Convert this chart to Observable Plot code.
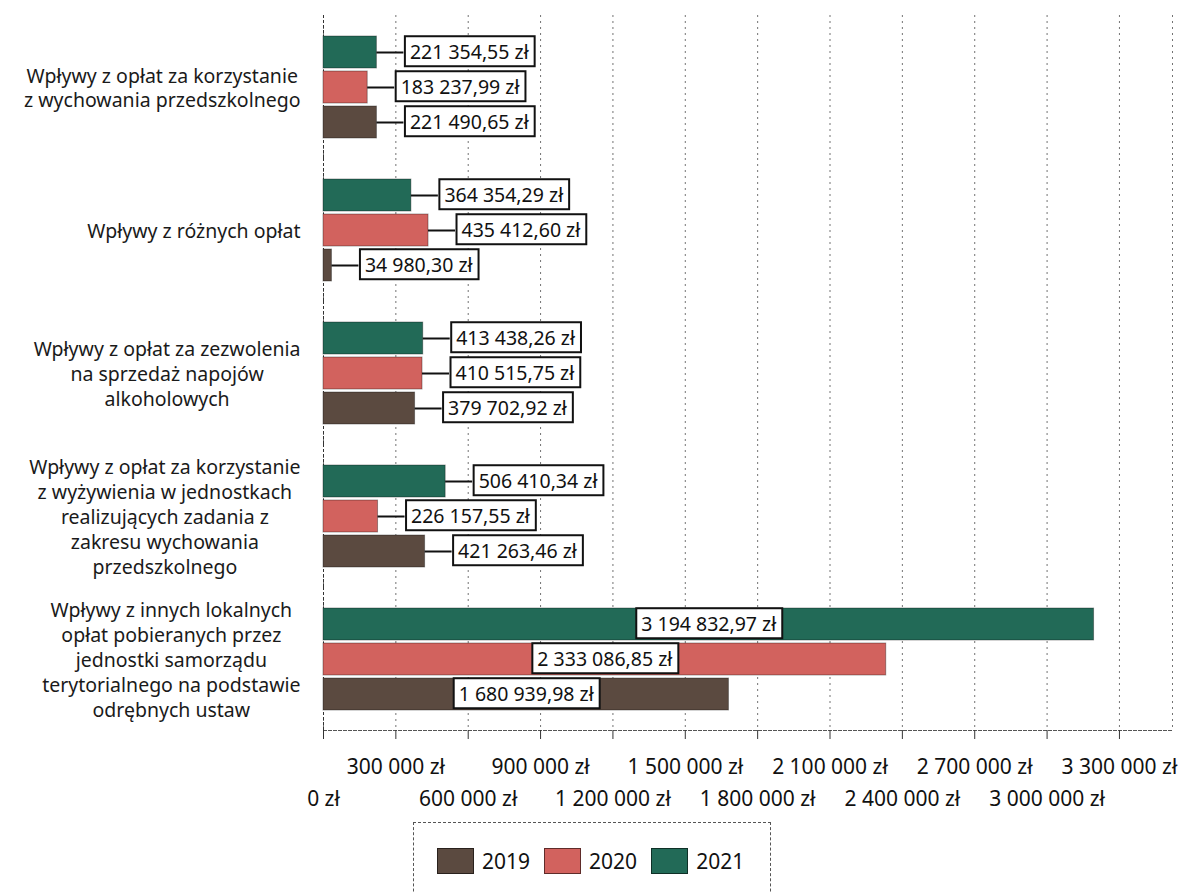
<!DOCTYPE html>
<html>
<head>
<meta charset="utf-8">
<script src="https://cdn.jsdelivr.net/npm/d3@7"></script>
<script src="https://cdn.jsdelivr.net/npm/@observablehq/plot@0.6"></script>
<style>
  html, body { margin: 0; padding: 0; background: #fff; }
  body { width: 1183px; height: 892px; overflow: hidden; font-family: "Noto Sans", sans-serif; }
  #legend { margin-left: 413px; margin-top: 7px; width: 358px; height: 90px; border: 1px dashed #555; border-bottom: none; box-sizing: border-box; display: flex; align-items: center; padding-left: 23px; padding-bottom: 14px; }
  .item { display: flex; align-items: center; margin-right: 14px; font-size: 21px; color: #111; }
  .sw { width: 37px; height: 26px; border: 1px solid rgba(0,0,0,0.55); margin-right: 8px; box-sizing: border-box; }
</style>
</head>
<body>
<div id="chart"></div>
<div id="legend"></div>
<script>
const categories = [
  "Wpływy z opłat za korzystanie\nz wychowania przedszkolnego",
  "Wpływy z różnych opłat",
  "Wpływy z opłat za zezwolenia\nna sprzedaż napojów\nalkoholowych",
  "Wpływy z opłat za korzystanie\nz wyżywienia w jednostkach\nrealizujących zadania z\nzakresu wychowania\nprzedszkolnego",
  "Wpływy z innych lokalnych\nopłat pobieranych przez\njednostki samorządu\nterytorialnego na podstawie\nodrębnych ustaw"
];
const years = ["2019", "2020", "2021"];
const values2019 = [221490.65, 34980.30, 379702.92, 421263.46, 1680939.98];
const values2020 = [183237.99, 435412.60, 410515.75, 226157.55, 2333086.85];
const values2021 = [221354.55, 364354.29, 413438.26, 506410.34, 3194832.97];
const colors = ["#5b4a40", "#d2625e", "#226a57"];
const tickValues = [0, 300000, 600000, 900000, 1200000, 1500000, 1800000, 2100000, 2400000, 2700000, 3000000, 3300000];
const xMax = 3520000;

const series = {"2019": values2019, "2020": values2020, "2021": values2021};
const rows = [];
categories.forEach((c, i) => years.forEach(y => rows.push({cat: c, year: y, value: series[y][i]})));

const loc = d3.formatLocale({decimal: ",", thousands: " ", grouping: [3], currency: ["", ""]});
const fmtVal = v => loc.format(",.2f")(v) + " zł";
const fmtTick = v => loc.format(",.0f")(v) + " zł";

const width = 1183, height = 815, mL = 323, mR = 11, mT = 13, mB = 83;
const pxToData = xMax / (width - mL - mR);
const lead = 27 * pxToData;
const insideThreshold = 1000000;
const outside = rows.filter(d => d.value < insideThreshold);
const inside = rows.filter(d => d.value >= insideThreshold);

// measure category label widths
const ctx = document.createElement("canvas").getContext("2d");
const catFont = 19.5;
ctx.font = `${catFont}px "Noto Sans"`;
const catWidth = c => Math.max(...c.split("\n").map(l => ctx.measureText(l).width));

const catMarks = categories.map(c => Plot.text([c], {
  fy: d => d, frameAnchor: "left", text: d => d, textAnchor: "middle",
  dx: -(23 + catWidth(c) / 2), fontSize: catFont, lineHeight: 1.28, fill: "#1a1a1a"
}));

const plot = Plot.plot({
  width, height, marginLeft: mL, marginRight: mR, marginTop: mT, marginBottom: mB,
  style: {fontFamily: '"Noto Sans", sans-serif', fontSize: "21px", background: "#fff"},
  x: {domain: [0, xMax], axis: null, label: null},
  y: {domain: ["2021", "2020", "2019"], axis: null, paddingInner: 0.1, paddingOuter: 0.545},
  fy: {domain: categories, axis: null, padding: 0},
  color: {domain: years, range: colors},
  marks: [
    Plot.gridX({ticks: tickValues, stroke: "#444", strokeOpacity: 0.75, strokeDasharray: "2,4"}),
    Plot.ruleX([xMax], {stroke: "#444", strokeOpacity: 0.75, strokeDasharray: "2,4"}),
    Plot.ruleX([0], {stroke: "#333", strokeDasharray: "3,2"}),
    Plot.frame({anchor: "bottom", facetAnchor: "bottom", stroke: "#555", strokeDasharray: "3,2"}),
    Plot.barX(rows, {x: "value", y: "year", fy: "cat", fill: "year", stroke: "rgba(0,0,0,0.35)", strokeWidth: 1}),
    Plot.ruleY(outside, {y: "year", fy: "cat", x1: "value", x2: d => d.value + lead, stroke: "#111", strokeWidth: 2}),
    Plot.text(outside, {y: "year", fy: "cat", x: d => d.value + lead, text: d => fmtVal(d.value), textAnchor: "start", dx: 6, fontSize: 19.5, fill: "#111", className: "vlabel"}),
    Plot.text(inside, {y: "year", fy: "cat", x: d => d.value / 2, text: d => fmtVal(d.value), textAnchor: "middle", fontSize: 19.5, fill: "#111", className: "vlabel"}),
    ...catMarks,
    Plot.axisX({ticks: tickValues.filter((d, i) => i % 2 === 1), label: null, tickSize: 9, tickPadding: 20, tickFormat: fmtTick, stroke: "#333", fill: "#111"}),
    Plot.axisX({ticks: tickValues.filter((d, i) => i % 2 === 0), label: null, tickSize: 9, tickPadding: 52, tickFormat: fmtTick, stroke: "#333", fill: "#111"})
  ]
});
document.getElementById("chart").appendChild(plot);

// white boxes behind value labels
plot.querySelectorAll("g.vlabel text").forEach(t => {
  const b = t.getBBox();
  const r = document.createElementNS("http://www.w3.org/2000/svg", "rect");
  const px = 5, py = 1.5;
  r.setAttribute("x", b.x - px);
  r.setAttribute("y", b.y - py);
  r.setAttribute("width", b.width + 2 * px);
  r.setAttribute("height", b.height + 2 * py);
  r.setAttribute("fill", "#fff");
  r.setAttribute("stroke", "#111");
  r.setAttribute("stroke-width", 2);
  if (t.getAttribute("transform")) r.setAttribute("transform", t.getAttribute("transform"));
  t.parentNode.insertBefore(r, t);
});

// legend
const legend = document.getElementById("legend");
years.forEach((y, i) => {
  const item = document.createElement("div");
  item.className = "item";
  const sw = document.createElement("div");
  sw.className = "sw";
  sw.style.background = colors[i];
  const lab = document.createElement("span");
  lab.textContent = y;
  item.appendChild(sw);
  item.appendChild(lab);
  legend.appendChild(item);
});
</script>
</body>
</html>
